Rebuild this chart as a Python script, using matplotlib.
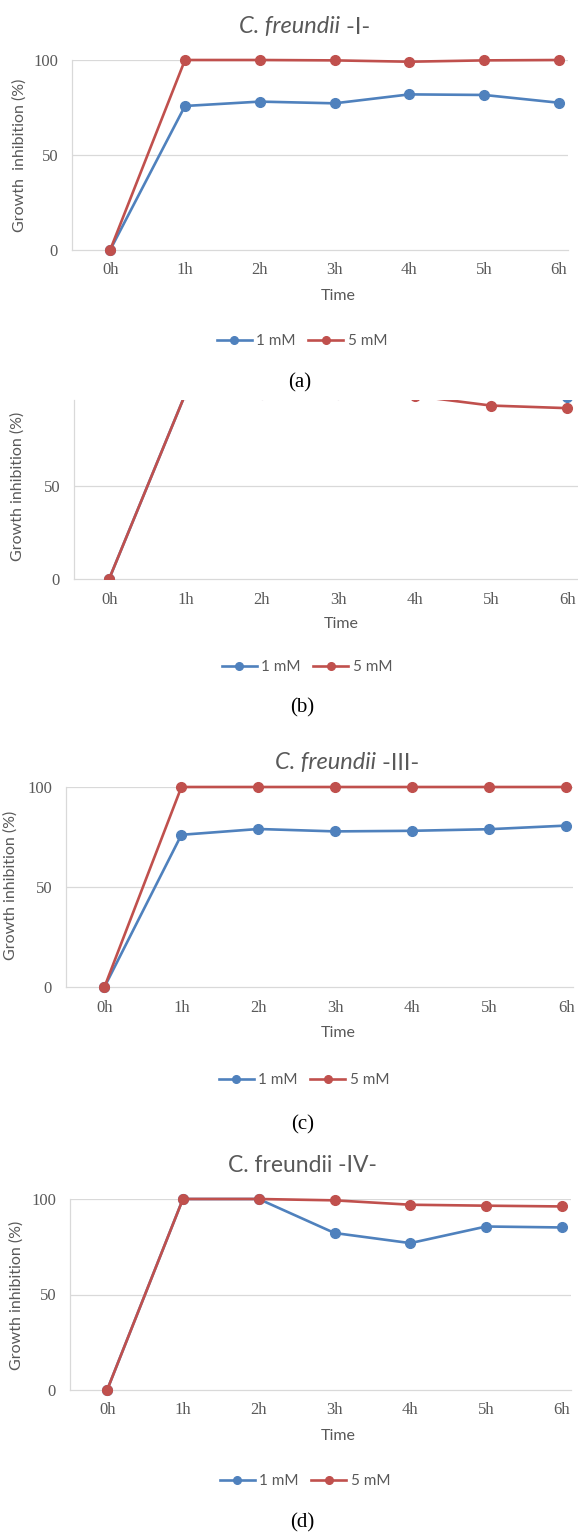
import matplotlib
matplotlib.use('Agg')
import matplotlib.pyplot as plt
from matplotlib.lines import Line2D

# data
times = ['0h', '1h', '2h', '3h', '4h', '5h', '6h']

a_1mM = [0, 75.8, 78.1, 77.2, 81.9, 81.6, 77.5]
a_5mM = [0, 100, 100, 99.8, 99.1, 99.8, 100]

b_1mM = [0, 100, 100, 100, 100, 100, 98.0]
b_5mM = [0, 100, 100, 99.6, 98.8, 93.6, 92.2]

c_1mM = [0, 76.1, 79.0, 77.8, 78.1, 78.9, 80.7]
c_5mM = [0, 100, 100, 100, 100, 100, 100]

d_1mM = [0, 100, 100, 82.2, 76.9, 85.6, 85.1]
d_5mM = [0, 100, 100, 99.3, 97.0, 96.5, 96.1]

BLUE = '#4F81BD'
RED = '#C0504D'
GREY = '#595959'
GRID = '#D9D9D9'
SANS = 'Lato'
SERIF = 'Liberation Serif'

W, H = 578, 1535
fig = plt.figure(figsize=(W / 100, H / 100), dpi=100)


def ftext(x, y, s, **kw):
    fig.text(x / W, 1 - y / H, s, **kw)


def panel(box, xlim, ylim, s1, s5, yticks, ylab_xy, time_xy, leg_xy, lab_xy, lab,
          ylab='Growth inhibition (%)'):
    left, top, right, bottom = box
    ax = fig.add_axes([left / W, 1 - bottom / H, (right - left) / W, (bottom - top) / H])
    x = range(len(times))
    clip = ylim[1] < 100
    ax.plot(x, s1, color=BLUE, lw=1.9, marker='o', ms=7, zorder=3, clip_on=clip)
    ax.plot(x, s5, color=RED, lw=1.9, marker='o', ms=7, zorder=4, clip_on=clip)
    ax.set_xlim(*xlim)
    ax.set_ylim(*ylim)
    ax.set_xticks(list(x))
    ax.set_xticklabels(times)
    ax.set_yticks(yticks)
    ax.tick_params(length=0, labelsize=12, colors=GREY, labelfontfamily=SERIF)
    ax.tick_params(axis='y', pad=10)
    ax.tick_params(axis='x', pad=9)
    for yv in yticks:
        if yv > 0:
            ax.axhline(yv, color=GRID, lw=0.9, zorder=1)
    for side in ['top', 'right']:
        ax.spines[side].set_visible(False)
    for side in ['left', 'bottom']:
        ax.spines[side].set_color(GRID)
        ax.spines[side].set_linewidth(0.9)

    ftext(ylab_xy[0], ylab_xy[1], ylab, rotation=90, ha='center', va='center',
          color=GREY, fontsize=11.5, family=SANS)
    ftext(time_xy[0], time_xy[1], 'Time', ha='center', va='center', color=GREY,
          fontsize=11.5, family=SANS)
    handles = [Line2D([], [], color=BLUE, lw=1.9, marker='o', ms=5.5),
               Line2D([], [], color=RED, lw=1.9, marker='o', ms=5.5)]
    fig.legend(handles, ['1 mM', '5 mM'], loc='center',
               bbox_to_anchor=(leg_xy[0] / W, 1 - leg_xy[1] / H), ncol=2,
               frameon=False, handlelength=2.3, handletextpad=0.3,
               columnspacing=0.8, prop={'family': SANS, 'size': 11},
               labelcolor=GREY)
    ftext(lab_xy[0], lab_xy[1], lab, ha='center', va='center', color='black',
          fontsize=15, family=SERIF)
    return ax


# (a)
panel((72, 60, 568, 250), (-0.51, 6.12), (0, 100), a_1mM, a_5mM, [0, 50, 100],
      ylab_xy=(20, 155), time_xy=(338, 296), leg_xy=(302, 341), lab_xy=(300, 383),
      lab='(a)', ylab='Growth  inhibition (%)')
ftext(340, 27, 'C. freundii', ha='right', va='center', color=GREY, fontsize=17,
      family=SANS, style='italic')
ftext(340, 27, ' -I-', ha='left', va='center', color=GREY, fontsize=17, family=SANS)

# (b) - top of the chart is cut off in the source
panel((74, 400, 578, 579), (-0.46, 6.14), (0, 96.6), b_1mM, b_5mM, [0, 50],
      ylab_xy=(18, 486), time_xy=(341, 624), leg_xy=(307, 667), lab_xy=(302, 708),
      lab='(b)')

# (c)
panel((66, 787, 573, 987), (-0.5, 6.09), (0, 100), c_1mM, c_5mM, [0, 50, 100],
      ylab_xy=(11, 885), time_xy=(338, 1033), leg_xy=(304, 1080), lab_xy=(303, 1125),
      lab='(c)')
ftext(376, 763, 'C. freundii', ha='right', va='center', color=GREY, fontsize=17,
      family=SANS, style='italic')
ftext(376, 763, ' -III-', ha='left', va='center', color=GREY, fontsize=17, family=SANS)

# (d)
panel((70, 1199, 571, 1390), (-0.49, 6.12), (0, 100), d_1mM, d_5mM, [0, 50, 100],
      ylab_xy=(17, 1295), time_xy=(338, 1436), leg_xy=(305, 1481), lab_xy=(302, 1523),
      lab='(d)')
ftext(302, 1165, 'C. freundii -IV-', ha='center', va='center', color=GREY,
      fontsize=16.5, family=SANS)

fig.savefig('out.png', dpi=100, facecolor='white')
